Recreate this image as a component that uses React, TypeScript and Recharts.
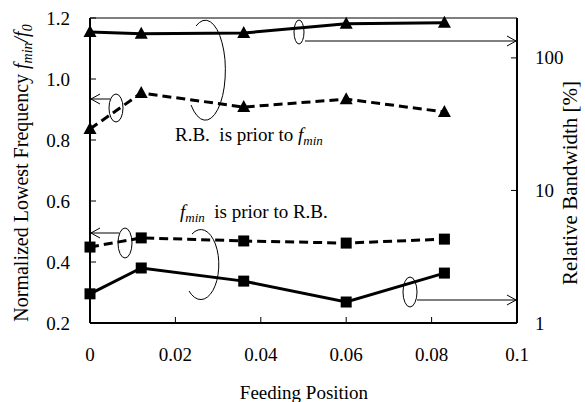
import React from 'react'
import { ComposedChart, Line, XAxis, YAxis, ReferenceLine } from 'recharts'

// feeding position of each antenna (x axis)
const positions = [0, 0.012, 0.036, 0.06, 0.083]
// R.B. is prior to f_min
const bwRbPrior = [157, 152, 154, 181, 184] // relative bandwidth [%], right axis
const fminRbPrior = [0.836, 0.954, 0.908, 0.934, 0.892] // f_min/f_0, left axis
// f_min is prior to R.B.
const fminFminPrior = [0.449, 0.479, 0.469, 0.462, 0.475] // left axis
const bwFminPrior = [1.66, 2.6, 2.07, 1.44, 2.38] // right axis

const xTicks = [0, 0.02, 0.04, 0.06, 0.08, 0.1]
const leftTicks = [0.2, 0.4, 0.6, 0.8, 1.0, 1.2]
const rightTicks = [1, 10, 100]

const FONT = "'Liberation Serif', 'DejaVu Serif', serif"

const data = positions.map((pos, i) => ({
  pos,
  bwRb: bwRbPrior[i],
  fRb: fminRbPrior[i],
  fFmin: fminFminPrior[i],
  bwFmin: bwFminPrior[i],
}))

const triangle = (props: any) => {
  const { cx, cy, index } = props
  return (
    <path
      key={`tri-${props.dataKey}-${index}`}
      d={`M${cx},${cy - 7} L${cx - 6.5},${cy + 5} L${cx + 6.5},${cy + 5} Z`}
      fill="#000"
    />
  )
}

const square = (props: any) => {
  const { cx, cy, index } = props
  return <rect key={`sq-${props.dataKey}-${index}`} x={cx - 5.5} y={cy - 5.5} width={11} height={11} fill="#000" />
}

const XTick = ({ x, y, payload }: any) => (
  <g>
    <line x1={x} y1={y} x2={x} y2={y - 6} stroke="#000" strokeWidth={1} />
    <text x={x} y={y + 31} textAnchor="middle" dominantBaseline="central" fontSize={19} style={{ fontFamily: FONT }} fill="#000">
      {String(payload.value)}
    </text>
  </g>
)

const LeftTick = ({ x, y, payload }: any) => (
  <g>
    <line x1={x} y1={y} x2={x + 6} y2={y} stroke="#000" strokeWidth={1} />
    <text x={x - 20} y={y} textAnchor="end" dominantBaseline="central" fontSize={19} style={{ fontFamily: FONT }} fill="#000">
      {payload.value.toFixed(1)}
    </text>
  </g>
)

const RightTick = ({ x, y, payload }: any) => (
  <g>
    <line x1={x - 6} y1={y} x2={x} y2={y} stroke="#000" strokeWidth={1} />
    <text x={x + 18} y={y} textAnchor="start" dominantBaseline="central" fontSize={19} style={{ fontFamily: FONT }} fill="#000">
      {String(payload.value)}
    </text>
  </g>
)

// open V arrow head
const arrowHead = (x: number, y: number, dir: number) =>
  `M${x - dir * 9},${y - 5} L${x},${y} L${x - dir * 9},${y + 5}`

const Annotations = () => (
  <svg width={585} height={402} style={{ position: 'absolute', left: 0, top: 0, pointerEvents: 'none' }}>
    <g fill="none" stroke="#000" strokeWidth={1}>
      {/* big open loops */}
      <path d="M196,26 A20,50 0 1,1 191,105" />
      <path d="M192,234 A18,35 0 1,1 189,291" />
      {/* small loops */}
      <ellipse cx={299} cy={32} rx={5} ry={12} />
      <ellipse cx={116} cy={108} rx={7} ry={14} />
      <ellipse cx={125} cy={243} rx={7} ry={15} />
      <ellipse cx={410} cy={292} rx={7} ry={15} />
      {/* arrows */}
      <line x1={305} y1={41} x2={516} y2={41} />
      <path d={arrowHead(516, 41, 1)} />
      <line x1={110} y1={99} x2={91} y2={99} />
      <path d={arrowHead(91, 99, -1)} />
      <line x1={119} y1={233} x2={91} y2={233} />
      <path d={arrowHead(91, 233, -1)} />
      <line x1={417} y1={300} x2={516} y2={300} />
      <path d={arrowHead(516, 300, 1)} />
    </g>
    <g style={{ fontFamily: FONT }} fill="#000" fontSize={19}>
      <text x={175} y={141}>
        R.B.{'\u00a0\u00a0'}is prior to <tspan fontStyle="italic">f</tspan>
        <tspan fontStyle="italic" fontSize={13} dy={4}>min</tspan>
      </text>
      <text x={180} y={218}>
        <tspan fontStyle="italic">f</tspan>
        <tspan fontStyle="italic" fontSize={13} dy={4}>min</tspan>
        <tspan dy={-4}>{'\u00a0\u00a0'}is prior to R.B.</tspan>
      </text>
      <text x={304} y={392} textAnchor="middle" dominantBaseline="central">Feeding Position</text>
      <text transform="translate(28,173) rotate(-90)" textAnchor="middle" fontSize={20}>
        Normalized Lowest Frequency <tspan fontStyle="italic">f</tspan>
        <tspan fontStyle="italic" fontSize={14} dy={4}>min</tspan>
        <tspan fontStyle="italic" dy={-4}>/f</tspan>
        <tspan fontStyle="italic" fontSize={14} dy={4}>0</tspan>
      </text>
      <text transform="translate(577,183) rotate(-90)" textAnchor="middle" fontSize={21}>
        Relative Bandwidth [%]
      </text>
    </g>
  </svg>
)

export default function App() {
  return (
    <div style={{ position: 'relative', width: 585, height: 402, background: '#fff' }}>
      <style>{"body{margin:0} svg text{font-family:'Liberation Serif','DejaVu Serif',serif}"}</style>
      <ComposedChart width={585} height={402} data={data} margin={{ top: 18, right: 0, bottom: 0, left: 0 }}>
        <XAxis
          dataKey="pos"
          type="number"
          domain={[0, 0.1]}
          ticks={xTicks}
          height={79}
          tickSize={0}
          tickMargin={0}
          tick={<XTick />}
          axisLine={{ stroke: '#000', strokeWidth: 2 }}
          interval={0}
        />
        <YAxis
          yAxisId="left"
          type="number"
          domain={[0.2, 1.2]}
          ticks={leftTicks}
          width={90}
          tickSize={0}
          tickMargin={0}
          tick={<LeftTick />}
          axisLine={{ stroke: '#000', strokeWidth: 2 }}
          interval={0}
        />
        <YAxis
          yAxisId="right"
          orientation="right"
          type="number"
          scale="log"
          domain={[1, 200]}
          ticks={rightTicks}
          width={68}
          tickSize={0}
          tickMargin={0}
          tick={<RightTick />}
          axisLine={{ stroke: '#000', strokeWidth: 2 }}
          interval={0}
        />
        <ReferenceLine yAxisId="left" y={1.2} stroke="#000" strokeWidth={1} />
        <Line yAxisId="right" dataKey="bwRb" stroke="#000" strokeWidth={3} dot={triangle} isAnimationActive={false} />
        <Line yAxisId="left" dataKey="fRb" stroke="#000" strokeWidth={3} strokeDasharray="9 5" dot={triangle} isAnimationActive={false} />
        <Line yAxisId="left" dataKey="fFmin" stroke="#000" strokeWidth={3} strokeDasharray="9 5" dot={square} isAnimationActive={false} />
        <Line yAxisId="right" dataKey="bwFmin" stroke="#000" strokeWidth={3} dot={square} isAnimationActive={false} />
      </ComposedChart>
      <Annotations />
    </div>
  )
}
